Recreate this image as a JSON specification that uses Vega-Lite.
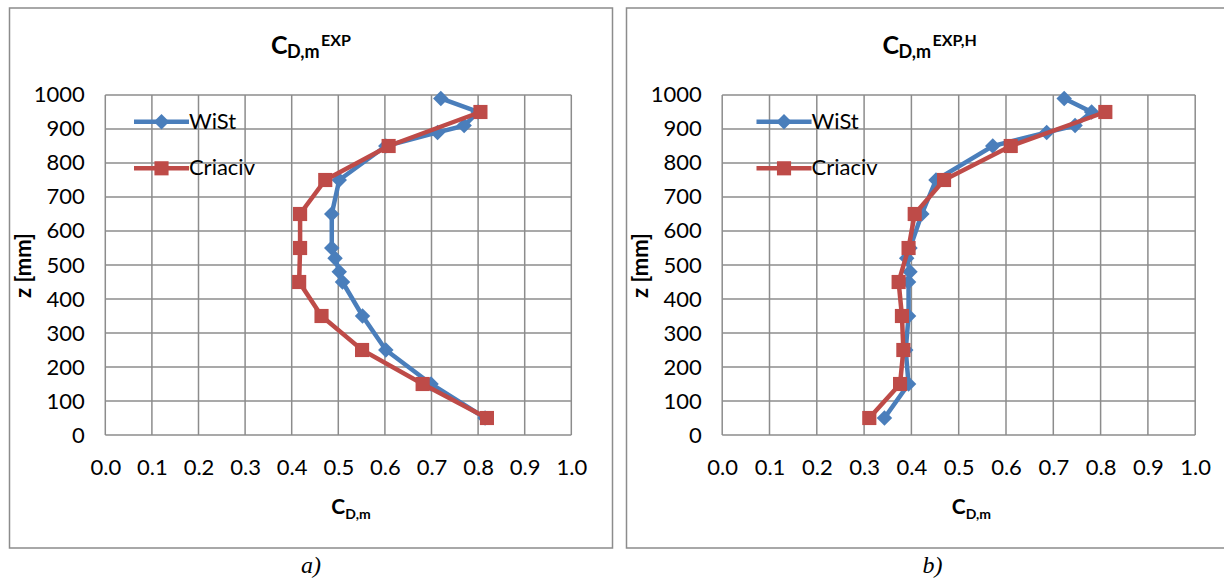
{
  "$schema": "https://vega.github.io/schema/vega-lite/v6.json",
  "background": "white",
  "padding": {"left": 8.5, "top": 7, "right": 0, "bottom": 0},
  "spacing": 12,
  "config": {
    "view": {"stroke": "#8c8c8c", "strokeWidth": 1.5},
    "axis": {"grid": false, "domain": false, "ticks": false, "tickSize": 0, "labelFont": "Lato", "labelFontSize": 22, "labelColor": "black", "titleFont": "Lato", "titleFontSize": 22, "titleFontWeight": "bold", "titleColor": "black"},
    "text": {"font": "Lato", "fontWeight": "bold", "color": "black", "align": "left", "baseline": "alphabetic"},
    "rule": {"color": "#8c8c8c", "strokeWidth": 1.5},
    "line": {"strokeWidth": 4.5},
    "point": {"filled": true, "opacity": 1}
  },
  "datasets": {
    "profiles": [
      {"panel": "a", "series": "WiSt", "z": 990, "cd": 0.72},
      {"panel": "a", "series": "WiSt", "z": 950, "cd": 0.8},
      {"panel": "a", "series": "WiSt", "z": 910, "cd": 0.77},
      {"panel": "a", "series": "WiSt", "z": 890, "cd": 0.713},
      {"panel": "a", "series": "WiSt", "z": 850, "cd": 0.602},
      {"panel": "a", "series": "WiSt", "z": 750, "cd": 0.502},
      {"panel": "a", "series": "WiSt", "z": 650, "cd": 0.486},
      {"panel": "a", "series": "WiSt", "z": 550, "cd": 0.486},
      {"panel": "a", "series": "WiSt", "z": 520, "cd": 0.493},
      {"panel": "a", "series": "WiSt", "z": 480, "cd": 0.502},
      {"panel": "a", "series": "WiSt", "z": 450, "cd": 0.509},
      {"panel": "a", "series": "WiSt", "z": 350, "cd": 0.552},
      {"panel": "a", "series": "WiSt", "z": 250, "cd": 0.602},
      {"panel": "a", "series": "WiSt", "z": 150, "cd": 0.699},
      {"panel": "a", "series": "WiSt", "z": 50, "cd": 0.815},
      {"panel": "a", "series": "Criaciv", "z": 950, "cd": 0.805},
      {"panel": "a", "series": "Criaciv", "z": 850, "cd": 0.608},
      {"panel": "a", "series": "Criaciv", "z": 750, "cd": 0.472},
      {"panel": "a", "series": "Criaciv", "z": 650, "cd": 0.418},
      {"panel": "a", "series": "Criaciv", "z": 550, "cd": 0.418},
      {"panel": "a", "series": "Criaciv", "z": 450, "cd": 0.416},
      {"panel": "a", "series": "Criaciv", "z": 350, "cd": 0.464},
      {"panel": "a", "series": "Criaciv", "z": 250, "cd": 0.551},
      {"panel": "a", "series": "Criaciv", "z": 150, "cd": 0.681},
      {"panel": "a", "series": "Criaciv", "z": 50, "cd": 0.819},
      {"panel": "b", "series": "WiSt", "z": 990, "cd": 0.723},
      {"panel": "b", "series": "WiSt", "z": 950, "cd": 0.781},
      {"panel": "b", "series": "WiSt", "z": 910, "cd": 0.746},
      {"panel": "b", "series": "WiSt", "z": 890, "cd": 0.686},
      {"panel": "b", "series": "WiSt", "z": 850, "cd": 0.572},
      {"panel": "b", "series": "WiSt", "z": 750, "cd": 0.452},
      {"panel": "b", "series": "WiSt", "z": 650, "cd": 0.422},
      {"panel": "b", "series": "WiSt", "z": 550, "cd": 0.397},
      {"panel": "b", "series": "WiSt", "z": 520, "cd": 0.39},
      {"panel": "b", "series": "WiSt", "z": 480, "cd": 0.397},
      {"panel": "b", "series": "WiSt", "z": 450, "cd": 0.394},
      {"panel": "b", "series": "WiSt", "z": 350, "cd": 0.394},
      {"panel": "b", "series": "WiSt", "z": 250, "cd": 0.388},
      {"panel": "b", "series": "WiSt", "z": 150, "cd": 0.394},
      {"panel": "b", "series": "WiSt", "z": 50, "cd": 0.343},
      {"panel": "b", "series": "Criaciv", "z": 950, "cd": 0.81},
      {"panel": "b", "series": "Criaciv", "z": 850, "cd": 0.61},
      {"panel": "b", "series": "Criaciv", "z": 750, "cd": 0.469},
      {"panel": "b", "series": "Criaciv", "z": 650, "cd": 0.407},
      {"panel": "b", "series": "Criaciv", "z": 550, "cd": 0.394},
      {"panel": "b", "series": "Criaciv", "z": 450, "cd": 0.373},
      {"panel": "b", "series": "Criaciv", "z": 350, "cd": 0.38},
      {"panel": "b", "series": "Criaciv", "z": 250, "cd": 0.383},
      {"panel": "b", "series": "Criaciv", "z": 150, "cd": 0.376},
      {"panel": "b", "series": "Criaciv", "z": 50, "cd": 0.311}
    ],
    "keys": [{"series": "WiSt"}, {"series": "Criaciv"}],
    "gridV": [
      {"cd": 0}, {"cd": 0.1}, {"cd": 0.2}, {"cd": 0.3}, {"cd": 0.4}, {"cd": 0.5},
      {"cd": 0.6}, {"cd": 0.7}, {"cd": 0.8}, {"cd": 0.9}, {"cd": 1}
    ],
    "gridH": [
      {"z": 0}, {"z": 100}, {"z": 200}, {"z": 300}, {"z": 400}, {"z": 500},
      {"z": 600}, {"z": 700}, {"z": 800}, {"z": 900}, {"z": 1000}
    ]
  },
  "hconcat": [
    {
      "width": 603,
      "height": 540,
      "title": {"text": "a)", "orient": "bottom", "anchor": "middle", "font": "Liberation Serif", "fontStyle": "italic", "fontWeight": "normal", "fontSize": 24, "color": "black", "offset": 6},
      "layer": [
        {"data": {"name": "gridV"}, "mark": "rule",
          "encoding": {
            "x": {"field": "cd", "type": "quantitative", "scale": {"domain": [-0.20558, 1.08841], "nice": false, "zero": false}, "axis": {"values": [0, 0.1, 0.2, 0.3, 0.4, 0.5, 0.6, 0.7, 0.8, 0.9, 1], "format": ".1f", "offset": -113, "labelPadding": 32, "labelBaseline": "middle", "title": null}},
            "y": {"datum": 0, "type": "quantitative", "scale": {"domain": [-332.35, 1255.88], "nice": false, "zero": false}, "axis": {"values": [0, 100, 200, 300, 400, 500, 600, 700, 800, 900, 1000], "format": "d", "offset": -95.8, "labelPadding": 21, "title": "z [mm]", "titleX": -70, "titleY": 257}},
            "y2": {"datum": 1000}}},
        {"data": {"name": "gridH"}, "mark": "rule",
          "encoding": {
            "y": {"field": "z", "type": "quantitative", "scale": {"domain": [-332.35, 1255.88], "nice": false, "zero": false}, "axis": {"values": [0, 100, 200, 300, 400, 500, 600, 700, 800, 900, 1000], "format": "d", "offset": -95.8, "labelPadding": 21, "title": "z [mm]", "titleX": -70, "titleY": 257}},
            "x": {"datum": 0, "type": "quantitative", "scale": {"domain": [-0.20558, 1.08841], "nice": false, "zero": false}, "axis": {"values": [0, 0.1, 0.2, 0.3, 0.4, 0.5, 0.6, 0.7, 0.8, 0.9, 1], "format": ".1f", "offset": -113, "labelPadding": 32, "labelBaseline": "middle", "title": null}},
            "x2": {"datum": 1}}},
        {"data": {"name": "profiles"}, "transform": [{"filter": "datum.panel === 'a' && datum.series === 'WiSt'"}],
          "mark": "line",
          "encoding": {"x": {"field": "cd", "type": "quantitative"}, "y": {"field": "z", "type": "quantitative"}, "order": {"field": "z", "type": "quantitative"},
            "color": {"field": "series", "type": "nominal", "scale": {"domain": ["WiSt", "Criaciv"], "range": ["#4a7ebb", "#be4b48"]}, "legend": null}}},
        {"data": {"name": "profiles"}, "transform": [{"filter": "datum.panel === 'a' && datum.series === 'WiSt'"}],
          "mark": {"type": "point", "shape": "diamond", "size": 240},
          "encoding": {"x": {"field": "cd", "type": "quantitative"}, "y": {"field": "z", "type": "quantitative"}, "color": {"field": "series", "type": "nominal", "legend": null}}},
        {"data": {"name": "profiles"}, "transform": [{"filter": "datum.panel === 'a' && datum.series === 'Criaciv'"}],
          "mark": "line",
          "encoding": {"x": {"field": "cd", "type": "quantitative"}, "y": {"field": "z", "type": "quantitative"}, "order": {"field": "z", "type": "quantitative"}, "color": {"field": "series", "type": "nominal", "legend": null}}},
        {"data": {"name": "profiles"}, "transform": [{"filter": "datum.panel === 'a' && datum.series === 'Criaciv'"}],
          "mark": {"type": "point", "shape": "square", "size": 200},
          "encoding": {"x": {"field": "cd", "type": "quantitative"}, "y": {"field": "z", "type": "quantitative"}, "color": {"field": "series", "type": "nominal", "legend": null}}},
        {"data": {"name": "keys"}, "transform": [{"filter": "datum.series === 'WiSt'"}], "mark": {"type": "rule", "strokeWidth": 4.5},
          "encoding": {"x": {"datum": 0.0616}, "x2": {"datum": 0.1796}, "y": {"datum": 921.5}, "color": {"field": "series", "type": "nominal", "legend": null}}},
        {"data": {"name": "keys"}, "transform": [{"filter": "datum.series === 'WiSt'"}], "mark": {"type": "point", "shape": "diamond", "size": 240},
          "encoding": {"x": {"datum": 0.1206}, "y": {"datum": 921.5}, "color": {"field": "series", "type": "nominal", "legend": null}}},
        {"data": {"name": "keys"}, "transform": [{"filter": "datum.series === 'WiSt'"}], "mark": {"type": "text", "fontWeight": "normal", "fontSize": 22, "baseline": "middle", "dx": 0},
          "encoding": {"x": {"datum": 0.1796}, "y": {"datum": 921.5}, "text": {"field": "series"}}},
        {"data": {"name": "keys"}, "transform": [{"filter": "datum.series === 'Criaciv'"}], "mark": {"type": "rule", "strokeWidth": 4.5},
          "encoding": {"x": {"datum": 0.0616}, "x2": {"datum": 0.1796}, "y": {"datum": 784.4}, "color": {"field": "series", "type": "nominal", "legend": null}}},
        {"data": {"name": "keys"}, "transform": [{"filter": "datum.series === 'Criaciv'"}], "mark": {"type": "point", "shape": "square", "size": 200},
          "encoding": {"x": {"datum": 0.1206}, "y": {"datum": 784.4}, "color": {"field": "series", "type": "nominal", "legend": null}}},
        {"data": {"name": "keys"}, "transform": [{"filter": "datum.series === 'Criaciv'"}], "mark": {"type": "text", "fontWeight": "normal", "fontSize": 22, "baseline": "middle", "dx": 0},
          "encoding": {"x": {"datum": 0.1796}, "y": {"datum": 784.4}, "text": {"field": "series"}}},
        {"data": {"values": [{}]}, "mark": {"type": "text", "text": "C", "fontSize": 25, "dx": -40}, "encoding": {"x": {"datum": 0.4414}, "y": {"datum": 1119.7}}},
        {"data": {"values": [{}]}, "mark": {"type": "text", "text": "D,m", "fontSize": 18, "dx": -24}, "encoding": {"x": {"datum": 0.4414}, "y": {"datum": 1109.7}}},
        {"data": {"values": [{}]}, "mark": {"type": "text", "text": "EXP", "fontSize": 16, "dx": 10}, "encoding": {"x": {"datum": 0.4414}, "y": {"datum": 1144}}},
        {"data": {"values": [{}]}, "mark": {"type": "text", "text": "C", "fontSize": 21, "dx": -7}, "encoding": {"x": {"datum": 0.5}, "y": {"datum": -232}}},
        {"data": {"values": [{}]}, "mark": {"type": "text", "text": "D,m", "fontSize": 14, "dx": 7}, "encoding": {"x": {"datum": 0.5}, "y": {"datum": -247}}}
      ]
    },
    {
      "width": 612,
      "height": 540,
      "title": {"text": "b)", "orient": "bottom", "anchor": "middle", "font": "Liberation Serif", "fontStyle": "italic", "fontWeight": "normal", "fontSize": 24, "color": "black", "offset": 6},
      "layer": [
        {"data": {"name": "gridV"}, "mark": "rule",
          "encoding": {
            "x": {"field": "cd", "type": "quantitative", "scale": {"domain": [-0.20233, 1.09154], "nice": false, "zero": false}, "axis": {"values": [0, 0.1, 0.2, 0.3, 0.4, 0.5, 0.6, 0.7, 0.8, 0.9, 1], "format": ".1f", "offset": -113, "labelPadding": 32, "labelBaseline": "middle", "title": null}},
            "y": {"datum": 0, "type": "quantitative", "scale": {"domain": [-332.35, 1255.88], "nice": false, "zero": false}, "axis": {"values": [0, 100, 200, 300, 400, 500, 600, 700, 800, 900, 1000], "format": "d", "offset": -95.7, "labelPadding": 21, "title": "z [mm]", "titleX": -70, "titleY": 257}},
            "y2": {"datum": 1000}}},
        {"data": {"name": "gridH"}, "mark": "rule",
          "encoding": {
            "y": {"field": "z", "type": "quantitative", "scale": {"domain": [-332.35, 1255.88], "nice": false, "zero": false}, "axis": {"values": [0, 100, 200, 300, 400, 500, 600, 700, 800, 900, 1000], "format": "d", "offset": -95.7, "labelPadding": 21, "title": "z [mm]", "titleX": -70, "titleY": 257}},
            "x": {"datum": 0, "type": "quantitative", "scale": {"domain": [-0.20233, 1.09154], "nice": false, "zero": false}, "axis": {"values": [0, 0.1, 0.2, 0.3, 0.4, 0.5, 0.6, 0.7, 0.8, 0.9, 1], "format": ".1f", "offset": -113, "labelPadding": 32, "labelBaseline": "middle", "title": null}},
            "x2": {"datum": 1}}},
        {"data": {"name": "profiles"}, "transform": [{"filter": "datum.panel === 'b' && datum.series === 'WiSt'"}],
          "mark": "line",
          "encoding": {"x": {"field": "cd", "type": "quantitative"}, "y": {"field": "z", "type": "quantitative"}, "order": {"field": "z", "type": "quantitative"},
            "color": {"field": "series", "type": "nominal", "scale": {"domain": ["WiSt", "Criaciv"], "range": ["#4a7ebb", "#be4b48"]}, "legend": null}}},
        {"data": {"name": "profiles"}, "transform": [{"filter": "datum.panel === 'b' && datum.series === 'WiSt'"}],
          "mark": {"type": "point", "shape": "diamond", "size": 240},
          "encoding": {"x": {"field": "cd", "type": "quantitative"}, "y": {"field": "z", "type": "quantitative"}, "color": {"field": "series", "type": "nominal", "legend": null}}},
        {"data": {"name": "profiles"}, "transform": [{"filter": "datum.panel === 'b' && datum.series === 'Criaciv'"}],
          "mark": "line",
          "encoding": {"x": {"field": "cd", "type": "quantitative"}, "y": {"field": "z", "type": "quantitative"}, "order": {"field": "z", "type": "quantitative"}, "color": {"field": "series", "type": "nominal", "legend": null}}},
        {"data": {"name": "profiles"}, "transform": [{"filter": "datum.panel === 'b' && datum.series === 'Criaciv'"}],
          "mark": {"type": "point", "shape": "square", "size": 200},
          "encoding": {"x": {"field": "cd", "type": "quantitative"}, "y": {"field": "z", "type": "quantitative"}, "color": {"field": "series", "type": "nominal", "legend": null}}},
        {"data": {"name": "keys"}, "transform": [{"filter": "datum.series === 'WiSt'"}], "mark": {"type": "rule", "strokeWidth": 4.5},
          "encoding": {"x": {"datum": 0.0725}, "x2": {"datum": 0.1889}, "y": {"datum": 921.5}, "color": {"field": "series", "type": "nominal", "legend": null}}},
        {"data": {"name": "keys"}, "transform": [{"filter": "datum.series === 'WiSt'"}], "mark": {"type": "point", "shape": "diamond", "size": 240},
          "encoding": {"x": {"datum": 0.1307}, "y": {"datum": 921.5}, "color": {"field": "series", "type": "nominal", "legend": null}}},
        {"data": {"name": "keys"}, "transform": [{"filter": "datum.series === 'WiSt'"}], "mark": {"type": "text", "fontWeight": "normal", "fontSize": 22, "baseline": "middle", "dx": 0},
          "encoding": {"x": {"datum": 0.1889}, "y": {"datum": 921.5}, "text": {"field": "series"}}},
        {"data": {"name": "keys"}, "transform": [{"filter": "datum.series === 'Criaciv'"}], "mark": {"type": "rule", "strokeWidth": 4.5},
          "encoding": {"x": {"datum": 0.0725}, "x2": {"datum": 0.1889}, "y": {"datum": 784.4}, "color": {"field": "series", "type": "nominal", "legend": null}}},
        {"data": {"name": "keys"}, "transform": [{"filter": "datum.series === 'Criaciv'"}], "mark": {"type": "point", "shape": "square", "size": 200},
          "encoding": {"x": {"datum": 0.1307}, "y": {"datum": 784.4}, "color": {"field": "series", "type": "nominal", "legend": null}}},
        {"data": {"name": "keys"}, "transform": [{"filter": "datum.series === 'Criaciv'"}], "mark": {"type": "text", "fontWeight": "normal", "fontSize": 22, "baseline": "middle", "dx": 0},
          "encoding": {"x": {"datum": 0.1889}, "y": {"datum": 784.4}, "text": {"field": "series"}}},
        {"data": {"values": [{}]}, "mark": {"type": "text", "text": "C", "fontSize": 25, "dx": -50}, "encoding": {"x": {"datum": 0.4446}, "y": {"datum": 1119.7}}},
        {"data": {"values": [{}]}, "mark": {"type": "text", "text": "D,m", "fontSize": 18, "dx": -34}, "encoding": {"x": {"datum": 0.4446}, "y": {"datum": 1109.7}}},
        {"data": {"values": [{}]}, "mark": {"type": "text", "text": "EXP,H", "fontSize": 16, "dx": 0}, "encoding": {"x": {"datum": 0.4446}, "y": {"datum": 1144}}},
        {"data": {"values": [{}]}, "mark": {"type": "text", "text": "C", "fontSize": 21, "dx": -7}, "encoding": {"x": {"datum": 0.5}, "y": {"datum": -232}}},
        {"data": {"values": [{}]}, "mark": {"type": "text", "text": "D,m", "fontSize": 14, "dx": 7}, "encoding": {"x": {"datum": 0.5}, "y": {"datum": -247}}}
      ]
    }
  ]
}
